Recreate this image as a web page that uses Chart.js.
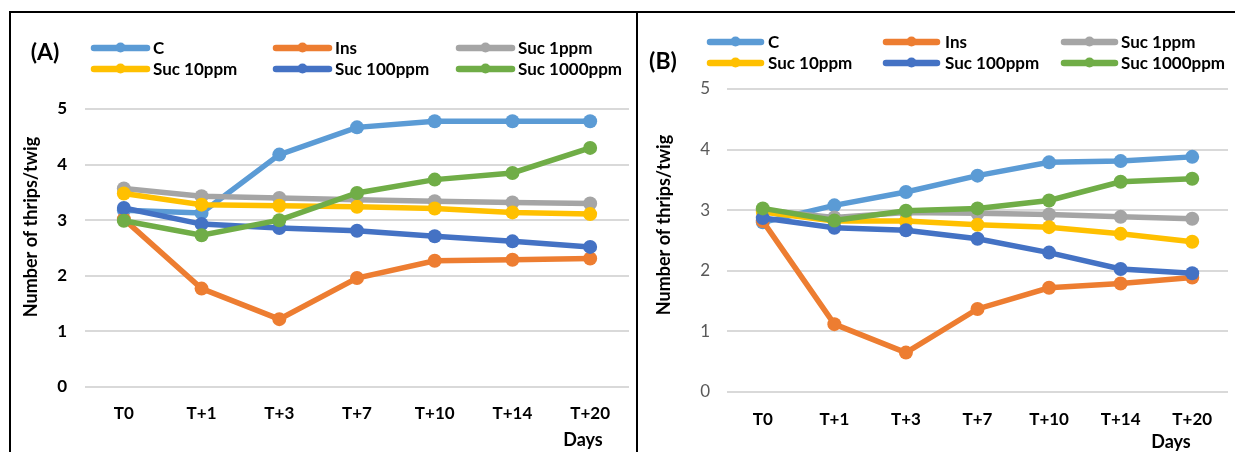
<!DOCTYPE html>
<html lang="en">
<head>
    <meta charset="UTF-8">
    <title>Number of thrips per twig</title>
    <script src="https://cdn.jsdelivr.net/npm/chart.js@4.4.1/dist/chart.umd.js"></script>
    <style>
        body { margin: 0; background: #fff; width: 1235px; height: 452px; overflow: hidden; position: relative; }
        .frame { position: absolute; top: 11px; box-sizing: border-box; border-top: 2px solid #000; }
        #frameA { left: 9px; width: 629px; height: 441px; border-left: 2px solid #000; border-right: 2px solid #000; }
        #frameB { left: 638px; width: 597px; height: 441px; }
        canvas { position: absolute; }
        #chartA { left: 11px; top: 13px; }
        #chartB { left: 638px; top: 13px; }
    </style>
</head>
<body>
    <div class="frame" id="frameA"></div>
    <div class="frame" id="frameB"></div>
    <canvas id="chartA" width="625" height="439"></canvas>
    <canvas id="chartB" width="597" height="439"></canvas>

    <script>
        // data
        const days = ['T0', 'T+1', 'T+3', 'T+7', 'T+10', 'T+14', 'T+20'];
        const seriesNames = ['C', 'Ins', 'Suc 1ppm', 'Suc 10ppm', 'Suc 100ppm', 'Suc 1000ppm'];
        const seriesColors = ['#5B9BD5', '#ED7D31', '#A5A5A5', '#FFC000', '#4472C4', '#70AD47'];
        const yTicks = [0, 1, 2, 3, 4, 5];

        // panel (A)
        const cA = [3.18, 3.13, 4.18, 4.67, 4.78, 4.78, 4.78];
        const insA = [3.02, 1.77, 1.22, 1.96, 2.27, 2.29, 2.31];
        const suc1A = [3.57, 3.43, 3.40, 3.37, 3.34, 3.32, 3.30];
        const suc10A = [3.48, 3.28, 3.26, 3.24, 3.21, 3.14, 3.11];
        const suc100A = [3.22, 2.93, 2.86, 2.81, 2.71, 2.62, 2.52];
        const suc1000A = [2.99, 2.73, 3.00, 3.49, 3.73, 3.85, 4.30];

        // panel (B)
        const cB = [2.80, 3.08, 3.30, 3.57, 3.79, 3.81, 3.88];
        const insB = [2.82, 1.12, 0.65, 1.37, 1.72, 1.79, 1.89];
        const suc1B = [3.00, 2.88, 2.96, 2.95, 2.93, 2.89, 2.86];
        const suc10B = [2.97, 2.82, 2.82, 2.76, 2.72, 2.61, 2.48];
        const suc100B = [2.87, 2.71, 2.67, 2.53, 2.30, 2.03, 1.96];
        const suc1000B = [3.03, 2.83, 2.99, 3.03, 3.16, 3.47, 3.52];

        const FONT = 'Lato, "Open Sans", sans-serif';

        // panel letter, legend grid, axis titles
        const panelDecor = {
            id: 'panelDecor',
            afterDraw(chart, args, o) {
                const ctx = chart.ctx;
                ctx.save();
                ctx.fillStyle = '#000';
                ctx.textBaseline = 'middle';

                ctx.font = 'bold 23px ' + FONT;
                ctx.textAlign = 'center';
                ctx.fillText(o.letter, o.letterX, o.letterY);

                chart.data.datasets.forEach((ds, i) => {
                    const col = i % 3, row = Math.floor(i / 3);
                    const x = o.swatchX[col], y = o.rowY[row];
                    ctx.strokeStyle = ds.borderColor;
                    ctx.lineWidth = 6.5;
                    ctx.lineCap = 'round';
                    ctx.beginPath();
                    ctx.moveTo(x + 3, y);
                    ctx.lineTo(x + o.swatchW - 3, y);
                    ctx.stroke();
                    ctx.fillStyle = ds.borderColor;
                    ctx.beginPath();
                    ctx.arc(x + o.swatchW / 2, y - 0.5, 5, 0, Math.PI * 2);
                    ctx.fill();
                    ctx.fillStyle = '#000';
                    ctx.font = 'bold 17px ' + FONT;
                    ctx.textAlign = 'left';
                    ctx.fillText(ds.label, o.textX[col], y + 1);
                });

                ctx.font = 'bold 18px ' + FONT;
                ctx.textAlign = 'center';
                ctx.fillText('Days', o.daysX, o.daysY);

                ctx.translate(o.yTitleX, o.yTitleY);
                ctx.rotate(-Math.PI / 2);
                ctx.font = 'bold 18px ' + FONT;
                ctx.fillText('Number of thrips/twig', 0, 0);
                ctx.restore();
            }
        };

        function makeChart(id, series, cfg) {
            const datasets = series.map((vals, i) => ({
                label: seriesNames[i],
                data: vals,
                borderColor: seriesColors[i],
                backgroundColor: seriesColors[i],
                borderWidth: 5.5,
                pointRadius: 7,
                pointHoverRadius: 7,
                pointBorderWidth: 0,
                tension: 0,
                order: series.length - i
            }));

            return new Chart(document.getElementById(id), {
                type: 'line',
                data: { labels: days, datasets: datasets },
                options: {
                    responsive: false,
                    animation: false,
                    layout: { padding: cfg.padding },
                    plugins: {
                        legend: { display: false },
                        tooltip: { enabled: false },
                        panelDecor: cfg.decor
                    },
                    scales: {
                        x: {
                            offset: true,
                            grid: { display: false },
                            border: { display: false },
                            ticks: {
                                padding: cfg.xPad,
                                color: '#000',
                                font: { family: FONT, size: 17, weight: 'bold' }
                            },
                            afterFit(scale) { scale.height = cfg.xHeight; }
                        },
                        y: {
                            min: yTicks[0],
                            max: yTicks[yTicks.length - 1],
                            grid: { color: '#D9D9D9', lineWidth: 2, drawTicks: false },
                            border: { display: false },
                            afterBuildTicks(scale) { scale.ticks = yTicks.map(v => ({ value: v })); },
                            ticks: {
                                padding: cfg.yPad,
                                color: cfg.yTickColor,
                                font: { family: FONT, size: 17, weight: cfg.yTickWeight }
                            },
                            afterFit(scale) { scale.width = cfg.yWidth; }
                        }
                    }
                },
                plugins: [panelDecor]
            });
        }

        makeChart('chartA', [cA, insA, suc1A, suc10A, suc100A, suc1000A], {
            padding: { top: 96, right: 3, bottom: 0, left: 0 },
            xHeight: 65, yWidth: 74, xPad: 8, yPad: 18,
            yTickColor: '#000', yTickWeight: 'bold',
            decor: {
                letter: '(A)', letterX: 34, letterY: 40,
                rowY: [35, 56], swatchX: [80, 262, 445], swatchW: 59, textX: [142, 324, 507],
                daysX: 572, daysY: 427, yTitleX: 20, yTitleY: 214
            }
        });

        makeChart('chartB', [cB, insB, suc1B, suc10B, suc100B, suc1000B], {
            padding: { top: 76, right: 1, bottom: 0, left: 0 },
            xHeight: 60, yWidth: 89, xPad: 9, yPad: 17,
            yTickColor: '#595959', yTickWeight: 'normal',
            decor: {
                letter: '(B)', letterX: 25, letterY: 49,
                rowY: [29, 50], swatchX: [69, 245, 423], swatchW: 57, textX: [130, 307, 483],
                daysX: 533, daysY: 429, yTitleX: 26, yTitleY: 212
            }
        });
    </script>
</body>
</html>
